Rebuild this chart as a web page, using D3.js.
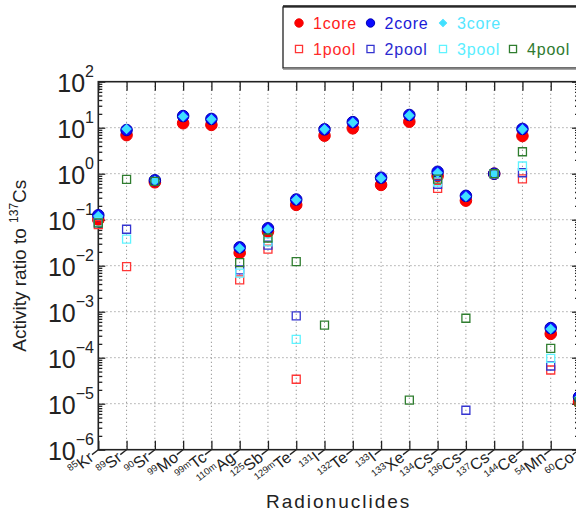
<!DOCTYPE html>
<html>
<head>
<meta charset="utf-8">
<script src="https://cdn.jsdelivr.net/npm/d3@7"></script>
<style>
  html, body { margin: 0; padding: 0; background: #fff; }
  svg { display: block; font-family: "Liberation Sans", Arial, Helvetica, sans-serif; }
</style>
</head>
<body>
<svg id="chart" width="576" height="514"></svg>
<script>
// Radionuclide labels: mass number (superscript) and element symbol
const massNumbers = ["85","89","90","99","99m","110m","125","129m","131","132","133","133","134","136","137","144","54","60"];
const elements    = ["Kr","Sr","Sr","Mo","Tc","Ag","Sb","Te","I","Te","I","Xe","Cs","Cs","Cs","Ce","Mn","Co"];

// Activity ratios to 137Cs (null = not measured)
const core1 = [0.1, 6.9, 0.65, 12.5, 11.5, 0.019, 0.055, 0.21, 6.7, 9.7, 0.57, 13.5, 0.89, 0.26, 1.0, 6.6, 3.3e-4, 1.1e-5];
const core2 = [0.125, 8.9, 0.72, 17.9, 15.5, 0.025, 0.065, 0.275, 9.2, 13.2, 0.82, 18.9, 1.1, 0.33, 1.0, 9.4, 4.4e-4, 1.4e-5];
const core3 = [0.12, 9.4, 0.70, 17.5, 15.2, 0.024, 0.062, 0.27, 9.2, 13.0, 0.80, 18.5, 1.05, 0.32, 1.0, 9.2, 4.2e-4, 1.35e-5];
const pool1 = [0.078, 0.0095, null, null, null, 0.0049, 0.023, 3.4e-5, null, null, null, null, 0.48, null, 1.0, 0.77, 5.4e-5, null];
const pool2 = [0.085, 0.062, null, null, null, 0.0081, 0.028, 8.1e-4, null, null, null, null, 0.59, 7.2e-6, 1.0, 1.05, 6.6e-5, null];
const pool3 = [0.088, 0.038, null, null, null, 0.0069, 0.033, 2.5e-4, null, null, null, null, 0.66, null, 1.0, 1.47, 9.7e-5, null];
const pool4 = [0.085, 0.75, 0.68, null, null, 0.0117, 0.040, 0.0123, 5.1e-4, null, null, 1.2e-5, 0.76, 7.2e-4, 1.0, 3.0, 1.6e-4, 1.1e-5];

// Y-axis decades (exponents)
const decadeExponents = [-6, -5, -4, -3, -2, -1, 0, 1, 2];

const categories = massNumbers.map((m, i) => m + elements[i] + "_" + i);

const series = [
  { name: "1core", values: core1, shape: "circle",  fill: "#ff0000", stroke: "#ee0000", text: "#ff1a1a" },
  { name: "2core", values: core2, shape: "circle",  fill: "#0a0aff", stroke: "#0000b4", text: "#1a1ad8" },
  { name: "3core", values: core3, shape: "diamond", fill: "#3fe0ff", stroke: "#3fe0ff", text: "#55e6ff" },
  { name: "1pool", values: pool1, shape: "square",  fill: "none", stroke: "#ff3535", text: "#ff2a2a" },
  { name: "2pool", values: pool2, shape: "square",  fill: "none", stroke: "#3434d0", text: "#2a2ad0" },
  { name: "3pool", values: pool3, shape: "square",  fill: "none", stroke: "#5ff3ff", text: "#5aeeff" },
  { name: "4pool", values: pool4, shape: "square",  fill: "none", stroke: "#2f7d2f", text: "#2f7a2f" }
];

const svg = d3.select("#chart");
svg.append("rect").attr("width", 576).attr("height", 514).attr("fill", "#fff");

const plotLeft = 98.3, plotRight = 579, plotTop = 81.7, plotBottom = 449.7;

const x = d3.scalePoint().domain(categories).range([plotLeft, plotRight]).padding(0);
const y = d3.scaleLog().domain([1e-6, 1e2]).range([plotBottom, plotTop]);

const decades = decadeExponents.map(e => Math.pow(10, e));
const minors = [];
for (let e = -6; e < 2; e++) for (let k = 2; k <= 9; k++) minors.push(k * Math.pow(10, e));

// Dotted grid
const grid = svg.append("g").attr("stroke", "#9a9a9a").attr("stroke-width", 1).attr("stroke-dasharray", "1.3,2.7");
grid.selectAll("line.h").data(decades.slice(1, -1)).join("line")
  .attr("x1", plotLeft).attr("x2", plotRight).attr("y1", d => y(d)).attr("y2", d => y(d));
grid.selectAll("line.v").data(categories.slice(1)).join("line")
  .attr("x1", d => x(d)).attr("x2", d => x(d)).attr("y1", plotTop).attr("y2", plotBottom);

// Axes (ticks pointing inward)
function styleAxis(g) {
  g.select(".domain").remove();
  g.selectAll("line").attr("stroke", "#222").attr("stroke-width", 1.3);
  g.selectAll("text").remove();
}
svg.append("g").attr("transform", `translate(${plotLeft},0)`)
  .call(d3.axisLeft(y).tickValues(decades).tickSize(-7).tickFormat("")).call(styleAxis);
svg.append("g").attr("transform", `translate(${plotLeft},0)`)
  .call(d3.axisLeft(y).tickValues(minors).tickSize(-4).tickFormat("")).call(styleAxis);
svg.append("g").attr("transform", `translate(${plotRight},0)`)
  .call(d3.axisRight(y).tickValues(decades).tickSize(-7).tickFormat("")).call(styleAxis);
svg.append("g").attr("transform", `translate(${plotRight},0)`)
  .call(d3.axisRight(y).tickValues(minors).tickSize(-4).tickFormat("")).call(styleAxis);
svg.append("g").attr("transform", `translate(0,${plotBottom})`)
  .call(d3.axisBottom(x).tickSize(-9).tickFormat("")).call(styleAxis);
svg.append("g").attr("transform", `translate(0,${plotTop})`)
  .call(d3.axisTop(x).tickSize(-9).tickFormat("")).call(styleAxis);

// Plot frame
svg.append("rect").attr("x", plotLeft).attr("y", plotTop).attr("width", plotRight - plotLeft).attr("height", plotBottom - plotTop)
  .attr("fill", "none").attr("stroke", "#222").attr("stroke-width", 1.6);

// Y tick labels: 10^n
const yLabels = svg.append("g").attr("fill", "#222");
decadeExponents.forEach(e => {
  const t = yLabels.append("text").attr("x", 94).attr("y", y(Math.pow(10, e)) + 10)
    .attr("text-anchor", "end").attr("font-size", 25).text("10");
  t.append("tspan").attr("dy", -15).attr("font-size", 16).text(e < 0 ? "\u2212" + (-e) : String(e));
});

// X tick labels: rotated nuclide names with leader stroke
const ang = 38;
const xl = svg.append("g");
categories.forEach((c, i) => {
  const g = xl.append("g").attr("transform", `translate(${x(c)},${plotBottom}) rotate(${-ang})`);
  g.append("line").attr("x1", 0).attr("y1", 0).attr("x2", -8).attr("y2", 0)
    .attr("stroke", "#222").attr("stroke-width", 1.3);
  const t = g.append("text").attr("x", -9).attr("y", 5.5).attr("text-anchor", "end").attr("fill", "#222");
  t.append("tspan").attr("font-size", 9.5).attr("dy", -5.5).text(massNumbers[i]);
  t.append("tspan").attr("font-size", 16).attr("dy", 5.5).text(elements[i]);
});

// Axis titles
svg.append("text").attr("x", (plotLeft + plotRight) / 2).attr("y", 508).attr("text-anchor", "middle")
  .attr("font-size", 19).attr("letter-spacing", 2).attr("fill", "#222").text("Radionuclides");
const yt = svg.append("text").attr("transform", `translate(26,${(plotTop + plotBottom) / 2}) rotate(-90)`)
  .attr("text-anchor", "middle").attr("font-size", 19).attr("fill", "#222");
yt.append("tspan").text("Activity ratio to ");
yt.append("tspan").attr("font-size", 12).attr("dy", -8).text("137");
yt.append("tspan").attr("dy", 8).text("Cs");

// Marker shapes
const shapePath = {
  circle: d3.symbol(d3.symbolCircle, 105)(),
  diamond: d3.symbol(d3.symbolSquare, 42)(),
  square: d3.symbol(d3.symbolSquare, 64)()
};
function drawMarker(sel, s) {
  sel.append("path").attr("d", shapePath[s.shape])
    .attr("transform", s.shape === "diamond" ? "rotate(45)" : null)
    .attr("fill", s.fill).attr("stroke", s.stroke)
    .attr("stroke-width", s.shape === "square" ? 1.3 : 1);
}

// Data marks
const marks = svg.append("g");
series.forEach(s => {
  const pts = categories.map((c, i) => ({ c, v: s.values[i] })).filter(d => d.v != null);
  marks.append("g").selectAll("g").data(pts).join("g")
    .attr("transform", d => `translate(${x(d.c)},${y(d.v)})`)
    .each(function () { drawMarker(d3.select(this), s); });
});

// Legend
const lg = svg.append("g");
lg.append("rect").attr("x", 283).attr("y", 7).attr("width", 310).attr("height", 61)
  .attr("fill", "#fff").attr("stroke", "#222").attr("stroke-width", 1.3);
lg.append("line").attr("x1", 283).attr("x2", 576).attr("y1", 69).attr("y2", 69)
  .attr("stroke", "#888").attr("stroke-width", 1.5);
lg.append("line").attr("x1", 283).attr("x2", 576).attr("y1", 6).attr("y2", 6)
  .attr("stroke", "#111").attr("stroke-width", 1.5);
const legendPos = [
  [299, 23], [370.5, 23], [443, 23],
  [299, 49], [370.5, 49], [443, 49], [513, 49]
];
series.forEach((s, i) => {
  const [lx, ly] = legendPos[i];
  const g = lg.append("g").attr("transform", `translate(${lx},${ly})`);
  g.append("path")
    .attr("d", s.shape === "circle" ? d3.symbol(d3.symbolCircle, 55)()
             : s.shape === "diamond" ? d3.symbol(d3.symbolSquare, 26)()
             : d3.symbol(d3.symbolSquare, 50)())
    .attr("transform", s.shape === "diamond" ? "rotate(45)" : null)
    .attr("fill", s.fill).attr("stroke", s.stroke).attr("stroke-width", s.shape === "square" ? 1.3 : 1);
  g.append("text").attr("x", 14).attr("y", 6).attr("font-size", 16).attr("letter-spacing", 0.8)
    .attr("fill", s.text).text(s.name);
});
</script>
</body>
</html>
